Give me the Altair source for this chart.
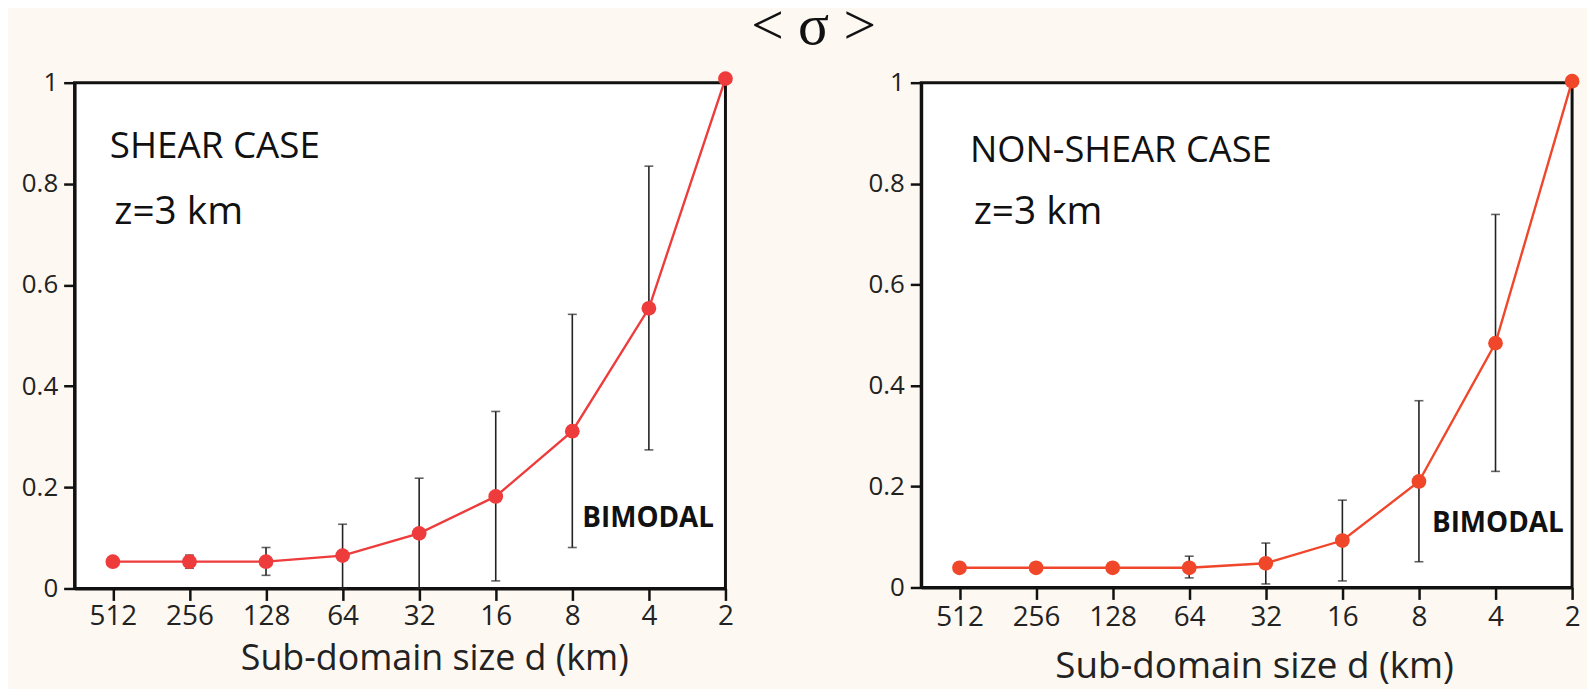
import altair as alt
import pandas as pd

# ---- data ----
sizes = ["512", "256", "128", "64", "32", "16", "8", "4", "2"]

shear_mean = [0.053, 0.053, 0.053, 0.065, 0.109, 0.182, 0.311, 0.554, 1.008]
shear_lo = [None, 0.040, 0.026, 0.000, 0.000, 0.015, 0.081, 0.274, None]
shear_hi = [None, 0.066, 0.081, 0.127, 0.218, 0.350, 0.542, 0.835, None]

nonshear_mean = [0.039, 0.039, 0.039, 0.039, 0.048, 0.093, 0.210, 0.484, 1.003]
nonshear_lo = [None, None, None, 0.019, 0.007, 0.013, 0.051, 0.230, None]
nonshear_hi = [None, None, None, 0.062, 0.088, 0.173, 0.370, 0.739, None]

y_ticks = [0, 0.2, 0.4, 0.6, 0.8, 1.0]

BG = "#fdf8f1"
FONT = "Open Sans"


def make_df(mean, lo, hi):
    return pd.DataFrame({
        "i": list(range(len(sizes))),
        "size": sizes,
        "mean": mean,
        "lo": lo,
        "hi": hi,
    })


label_expr = "[" + ",".join("'" + s + "'" for s in sizes) + "][datum.value]"


def panel(df, color, w, h, title_x, title_pad, title_size, label_pad, notes):
    x = alt.X(
        "i:Q",
        scale=alt.Scale(domain=[-0.5, len(sizes) - 1], nice=False, zero=False),
        axis=alt.Axis(
            values=list(range(len(sizes))),
            labelExpr=label_expr,
            title="Sub-domain size d (km)",
            titleFont=FONT,
            titleFontSize=title_size,
            titleFontWeight="normal",
            titleColor="#222",
            titlePadding=title_pad,
            titleX=title_x,
            titleAlign="center",
            labelFont=FONT,
            labelFontSize=28,
            labelColor="#222",
            labelPadding=label_pad,
            tickSize=12,
            tickWidth=2.5,
            tickColor="#111",
            domainColor="#111",
            domainWidth=3,
            grid=False,
            labelFlush=False,
        ),
    )
    y_scale = alt.Scale(domain=[0, 1], nice=False, zero=True)
    y = alt.Y(
        "mean:Q",
        scale=y_scale,
        axis=alt.Axis(
            values=y_ticks,
            format="~g",
            title=None,
            labelFont=FONT,
            labelFontSize=26,
            labelColor="#222",
            labelPadding=6,
            tickSize=11,
            tickWidth=2.5,
            tickColor="#111",
            domainColor="#111",
            domainWidth=3,
            grid=False,
        ),
    )
    base = alt.Chart(df)
    line = base.mark_line(color=color, strokeWidth=2.4, interpolate="linear").encode(x=x, y=y)
    err_base = base.transform_filter("isValid(datum.lo) && isValid(datum.hi)")
    rule = err_base.mark_rule(color="#222", strokeWidth=1.6).encode(
        x=alt.X("i:Q"), y=alt.Y("lo:Q"), y2=alt.Y2("hi:Q")
    )
    cap_lo = err_base.mark_tick(orient="horizontal", color="#222", size=9, thickness=1.6).encode(
        x=alt.X("i:Q"), y=alt.Y("lo:Q")
    )
    cap_hi = err_base.mark_tick(orient="horizontal", color="#222", size=9, thickness=1.6).encode(
        x=alt.X("i:Q"), y=alt.Y("hi:Q")
    )
    pts = base.mark_circle(color=color, size=220, opacity=1).encode(x=alt.X("i:Q"), y=alt.Y("mean:Q"))

    layers = [line, rule, cap_lo, cap_hi, pts]
    for txt, nx, ny, fs, fw in notes:
        layers.append(
            alt.Chart(pd.DataFrame({"t": [txt]})).mark_text(
                align="left", baseline="alphabetic", font=FONT, fontSize=fs,
                fontWeight=fw, color="#111"
            ).encode(x=alt.datum(nx), y=alt.datum(ny), text="t:N")
        )
    return alt.layer(*layers).properties(width=w, height=h)


left = panel(
    make_df(shear_mean, shear_lo, shear_hi), "#ee3b3b", 655, 509, 362, 12, 36, 2,
    [("SHEAR CASE", -0.04, 0.851, 37, "normal"),
     ("z=3 km", 0.018, 0.72, 39, "normal"),
     ("BIMODAL", 6.13, 0.121, 28, "bold")],
)
right = panel(
    make_df(nonshear_mean, nonshear_lo, nonshear_hi), "#f0462a", 655, 508, 335, 18, 37, 4,
    [("NON-SHEAR CASE", 0.136, 0.842, 36.5, "normal"),
     ("z=3 km", 0.185, 0.72, 39, "normal"),
     ("BIMODAL", 6.17, 0.109, 28, "bold")],
)

chart = alt.hconcat(left, right, spacing=131).properties(
    title=alt.TitleParams(
        "< σ >", font="Liberation Serif", fontSize=58, fontWeight="normal",
        color="#111", anchor="middle", dx=13, offset=12,
    ),
    background=BG,
    padding={"left": 11, "top": -12, "right": 5, "bottom": 0},
).configure_view(
    stroke="#111", strokeWidth=3, fill="white"
)

chart.save("out.html", embed_options={"renderer": "svg", "actions": False})
